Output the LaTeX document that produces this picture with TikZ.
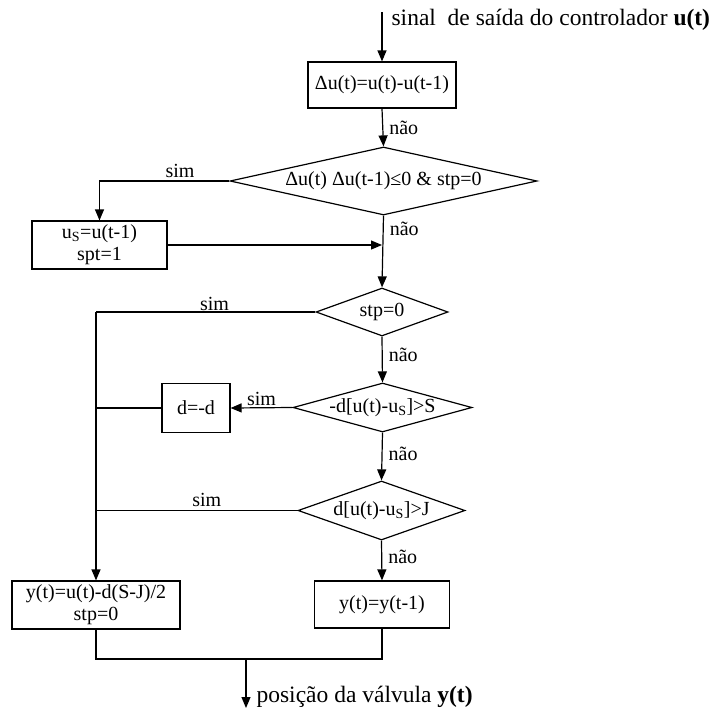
\documentclass[tikz,border=0pt]{standalone}
\usepackage{fontspec}
\setmainfont{Liberation Serif}
\usetikzlibrary{shapes.geometric,arrows.meta}
\begin{document}
\begin{tikzpicture}[x=1pt,y=-1pt,
  font=\fontsize{20}{22}\selectfont,
  line width=1.2pt,
  box/.style={draw,rectangle,inner sep=0pt,align=center},
  dec/.style={draw,diamond,inner sep=0pt},
  arr/.style={-{Triangle[length=11pt,width=9pt]}},
  lbl/.style={inner sep=0pt}]
\useasboundingbox (0,0) rectangle (724,713);
% top input
\coordinate (in) at (382,12);
\node[lbl,anchor=west,font=\fontsize{23.5}{25}\selectfont] (intxt) at (391,20) {sinal\ \ de saída do controlador \textbf{u(t)}};
% boxes
\node[box,minimum width=148pt,minimum height=46pt] (b1) at (382,85) {Δu(t)=u(t)-u(t-1)};
\node[dec,minimum width=307pt,minimum height=68pt,aspect=4.5] (d1) at (383.5,181) {Δu(t) Δu(t-1)≤0 \& stp=0};
\node[box,minimum width=135pt,minimum height=48pt] (b2) at (99.5,245) {u\textsubscript{S}=u(t-1)\\spt=1};
\coordinate (j1) at (382,245);
\node[dec,minimum width=132pt,minimum height=48pt,aspect=2.75] (d2) at (382,312) {stp=0};
\node[dec,minimum width=179pt,minimum height=49pt,aspect=3.65] (d3) at (382.5,407.5) {-d[u(t)-u\textsubscript{S}]>S};
\node[box,minimum width=68pt,minimum height=49pt] (b3) at (196,408) {d=-d};
\node[dec,minimum width=167pt,minimum height=59pt,aspect=2.8] (d4) at (381.5,510.5) {d[u(t)-u\textsubscript{S}]>J};
\node[box,minimum width=168pt,minimum height=48pt] (b4) at (96,605) {y(t)=u(t)-d(S-J)/2\\stp=0};
\node[box,minimum width=135pt,minimum height=47pt] (b5) at (382,604.5) {y(t)=y(t-1)};
\coordinate (lx) at (96,312);
\coordinate (m) at (246,659);
\coordinate (out) at (246,708);
% connectors
\draw[arr] (in) -- (b1.north);
\draw[arr] (b1.south) -- node[lbl,anchor=west,xshift=6pt,pos=0.5] {não} (d1.north);
\draw[arr] (d1.west) -- node[lbl,pos=0.38,above=3pt] {sim} (b2.north |- d1.west) -- (b2.north);
\draw[arr] (b2.east) -- (j1);
\draw[arr] (d1.south) -- node[lbl,anchor=west,xshift=6pt,pos=0.18] {não} (d2.north);
\draw (d2.west) -- node[lbl,pos=0.46,above=1pt] {sim} (lx);
\draw[arr] (lx) -- (b4.north);
\draw[arr] (d2.south) -- node[lbl,anchor=west,xshift=6pt,pos=0.4] {não} (d3.north);
\draw[arr] (d3.west) -- node[lbl,pos=0.5,above=1pt] {sim} (b3.east);
\draw (b3.west) -- (lx |- b3.west);
\draw[arr] (d3.south) -- node[lbl,anchor=west,xshift=6pt,pos=0.45] {não} (d4.north);
\draw (d4.west) -- node[lbl,pos=0.45,above=3pt] {sim} (lx |- d4.west);
\draw[arr] (d4.south) -- node[lbl,anchor=west,xshift=6pt,pos=0.4] {não} (b5.north);
\draw (b4.south) -- (b4.south |- m) -- (b5.south |- m) -- (b5.south);
\draw[arr] (m) -- (out);
\node[lbl,anchor=west,font=\fontsize{23.5}{25}\selectfont] (outtxt) at (256,697) {posição da válvula \textbf{y(t)}};
\end{tikzpicture}
\end{document}
